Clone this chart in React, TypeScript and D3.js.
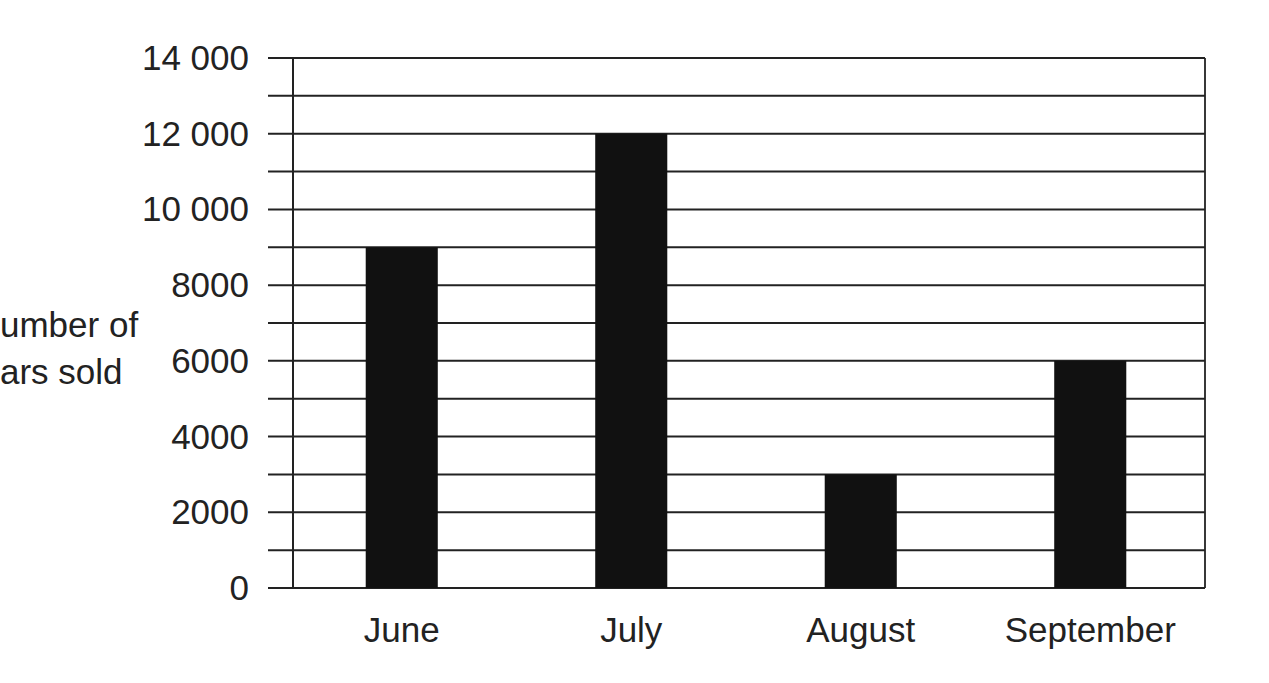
import React from "react";
import * as d3 from "d3";

const months = ["June", "July", "August", "September"];
const carsSold = [9000, 12000, 3000, 6000];
const yTickValues = [0, 2000, 4000, 6000, 8000, 10000, 12000, 14000];
const yTickLabels = ["0", "2000", "4000", "6000", "8000", "10 000", "12 000", "14 000"];
const gridValues = d3.range(0, 14001, 1000);
// The reference crops the axis title at the left edge; these are the visible parts.
const axisTitleLines = ["umber of", "ars sold"];

const W = 1269;
const H = 683;
const FONT = "'Liberation Sans', Arial, sans-serif";
const INK = "#222";
const FS = 35;

export default function App() {
  const plotLeft = 293;
  const plotRight = 1205;
  const plotTop = 58;
  const plotBottom = 588;

  const y = d3.scaleLinear().domain([0, 14000]).range([plotBottom, plotTop]);
  const x = d3
    .scaleBand<string>()
    .domain(months)
    .range([287, 1205])
    .paddingInner(0.686)
    .paddingOuter(0.343);

  return (
    <svg
      width={W}
      height={H}
      style={{ position: "absolute", left: 0, top: 0, background: "#fff" }}
      fontFamily={FONT}
    >
      <rect x={0} y={0} width={W} height={H} fill="#fff" />
      {gridValues.map((v) => (
        <line
          key={"g" + v}
          x1={268}
          x2={plotRight}
          y1={y(v)}
          y2={y(v)}
          stroke={INK}
          strokeWidth={2}
        />
      ))}
      <line x1={plotLeft} x2={plotLeft} y1={plotTop} y2={plotBottom} stroke={INK} strokeWidth={2} />
      <line x1={plotRight} x2={plotRight} y1={plotTop} y2={plotBottom} stroke={INK} strokeWidth={1.8} />
      {months.map((m, i) => (
        <rect
          key={m}
          x={x(m)}
          y={y(carsSold[i])}
          width={x.bandwidth()}
          height={y(0) - y(carsSold[i])}
          fill="#111"
        />
      ))}
      {yTickValues.map((v, i) => (
        <text
          key={"t" + v}
          x={249}
          y={y(v) + 12}
          textAnchor="end"
          fontSize={FS}
          fill={INK}
        >
          {yTickLabels[i]}
        </text>
      ))}
      {months.map((m) => (
        <text
          key={"x" + m}
          x={(x(m) as number) + x.bandwidth() / 2}
          y={642}
          textAnchor="middle"
          fontSize={FS}
          fill={INK}
        >
          {m}
        </text>
      ))}
      {axisTitleLines.map((t, i) => (
        <text
          key={"a" + i}
          x={0}
          y={337 + i * 47}
          textAnchor="start"
          fontSize={FS}
          fill={INK}
        >
          {t}
        </text>
      ))}
    </svg>
  );
}
